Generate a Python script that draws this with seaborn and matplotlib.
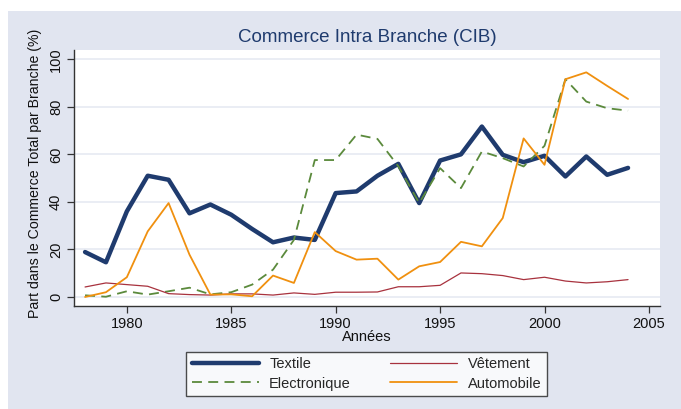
import numpy as np
import pandas as pd
import matplotlib
matplotlib.use("Agg")
import matplotlib.pyplot as plt
import seaborn as sns
from matplotlib.patches import Rectangle

years = list(range(1978, 2005))
textile = [18.9, 14.6, 36.0, 51.0, 49.3, 35.2, 38.9, 34.6, 28.6, 23.0, 25.0, 24.0, 43.7,
           44.4, 51.0, 56.0, 39.5, 57.4, 60.0, 71.7, 59.8, 56.7, 59.4, 50.7, 59.1, 51.4, 54.3]
vetement = [4.2, 5.9, 5.2, 4.5, 1.4, 1.0, 0.8, 1.3, 1.3, 0.8, 1.7, 1.1, 2.0,
            2.0, 2.1, 4.3, 4.3, 4.9, 10.1, 9.8, 9.0, 7.3, 8.3, 6.7, 5.9, 6.4, 7.3]
electronique = [0.7, 0.1, 2.4, 1.0, 2.4, 3.9, 1.1, 2.0, 5.2, 11.5, 24.0, 57.6, 57.6,
                68.3, 66.5, 55.0, 39.5, 54.2, 45.8, 61.2, 58.4, 54.9, 63.6, 91.6, 82.2, 79.4, 78.4]
automobile = [0.0, 2.0, 8.3, 27.6, 39.5, 17.8, 1.0, 1.1, 0.3, 9.0, 5.9, 27.3, 19.3,
              15.7, 16.1, 7.3, 12.9, 14.7, 23.2, 21.3, 33.2, 66.7, 55.6, 91.6, 94.5, 88.8, 83.3]

series_names = ["Textile", "Electronique", "Vêtement", "Automobile"]
series_values = [textile, electronique, vetement, automobile]

df = pd.DataFrame({"Année": years * 4,
                   "Valeur": textile + electronique + vetement + automobile,
                   "Série": sum([[n] * len(years) for n in series_names], [])})

sns.set_theme(style="white")
plt.rcParams['font.family'] = ['Liberation Sans', 'DejaVu Sans']

styles = {
    "Textile": dict(color="#1F3B6E", lw=3.2, ls="-"),
    "Electronique": dict(color="#5B8A3C", lw=1.3, ls=(0, (5.5, 3.5))),
    "Vêtement": dict(color="#A8323E", lw=0.9, ls="-"),
    "Automobile": dict(color="#F0900F", lw=1.3, ls="-"),
}

fig = plt.figure(figsize=(6.81, 4.09), dpi=100)
fig.patch.set_facecolor("white")
bg = Rectangle((8 / 681, 0), 1 - 8 / 681, 1 - 11 / 409, transform=fig.transFigure,
               facecolor="#E1E5F0", edgecolor="none", zorder=-10)
fig.patches.append(bg)

ax = fig.add_axes([74 / 681, 1 - 306 / 409, (660 - 74) / 681, (306 - 50) / 409])
ax.set_facecolor("white")

handles = []
for name in series_names:
    sub = df[df["Série"] == name]
    st = styles[name]
    sns.lineplot(data=sub, x="Année", y="Valeur", ax=ax, color=st["color"],
                 linewidth=st["lw"], linestyle=st["ls"], label=name, legend=False)
    handles.append(ax.lines[-1])

ax.set_xlim(1977.47, 2005.53)
ax.set_ylim(-3.8, 103.9)
ax.set_xticks([1980, 1985, 1990, 1995, 2000, 2005])
ax.set_yticks([0, 20, 40, 60, 80, 100])
ax.yaxis.grid(True, color="#E6EAF2", lw=1.2)
ax.set_axisbelow(True)
for s in ["top", "right"]:
    ax.spines[s].set_visible(False)
for s in ["left", "bottom"]:
    ax.spines[s].set_color("#333333")
    ax.spines[s].set_linewidth(1.0)
ax.tick_params(axis="both", which="major", direction="out", length=5, width=0.9,
               color="#333333", labelsize=10.5, labelcolor="#111111", left=True, bottom=True, pad=3)
for lab in ax.get_yticklabels():
    lab.set_rotation(90)
    lab.set_va("center")

ax.set_xlabel("Années", fontsize=10.5, color="#111111", labelpad=-1)
ax.set_ylabel("Part dans le Commerce Total par Branche (%)", fontsize=10.2, color="#111111")
ax.yaxis.set_label_coords(-0.054, 0.52)

fig.text(367 / 681, 1 - 38 / 409, "Commerce Intra Branche (CIB)", ha="center", va="center",
         fontsize=13.5, color="#1F3B6E")

leg = fig.legend(handles=handles, labels=series_names, ncol=2, loc="center",
                 bbox_to_anchor=(366.5 / 681, 1 - 374 / 409), frameon=True, fancybox=False,
                 fontsize=10.5, handlelength=4.6, columnspacing=2.7, handletextpad=0.7,
                 borderpad=0.4, labelspacing=0.35, borderaxespad=0)
leg.get_frame().set_edgecolor("#222222")
leg.get_frame().set_linewidth(1.0)
leg.get_frame().set_facecolor("white")

fig.savefig("out.png", dpi=100)
